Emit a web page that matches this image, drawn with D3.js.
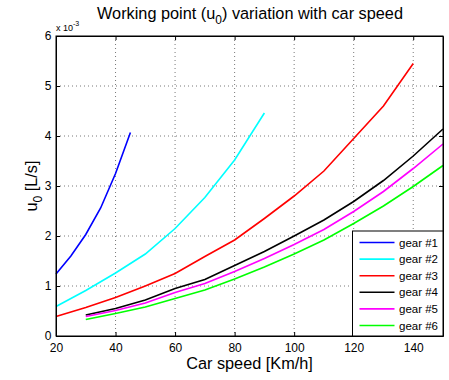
<!DOCTYPE html>
<html>
<head>
<meta charset="utf-8">
<script src="https://cdn.jsdelivr.net/npm/d3@7"></script>
<style>
  body { margin: 0; background: #fff; }
  svg { display: block; font-family: "Liberation Sans", Arial, sans-serif; }
  .grid line { stroke: #555; stroke-width: 0.8; stroke-dasharray: 1,3; }
  .axis path, .axis line { stroke: #000; }
  .axis text { fill: #000; font-size: 12px; }
</style>
</head>
<body>
<div id="chart"></div>
<script>
// values in units of 1e-3 L/s
var gear1Speed = [20, 25, 30, 35, 40, 45];
var gear1 = [1.24, 1.6, 2.03, 2.56, 3.25, 4.07];

var gear2Speed = [20, 30, 40, 50, 60, 70, 80, 90];
var gear2 = [0.59, 0.91, 1.26, 1.64, 2.15, 2.77, 3.52, 4.46];

var gear3Speed = [20, 30, 40, 50, 60, 70, 80, 90, 100, 110, 120, 130, 140];
var gear3 = [0.39, 0.57, 0.77, 1.0, 1.25, 1.59, 1.92, 2.35, 2.8, 3.3, 3.95, 4.6, 5.45];

var gearSpeed = [30, 40, 50, 60, 70, 80, 90, 100, 110, 120, 130, 140, 150];
var gear4 = [0.42, 0.55, 0.72, 0.95, 1.13, 1.41, 1.69, 2.0, 2.32, 2.69, 3.11, 3.6, 4.14];
var gear5 = [0.39, 0.51, 0.66, 0.87, 1.05, 1.29, 1.55, 1.83, 2.13, 2.49, 2.89, 3.35, 3.84];
var gear6 = [0.33, 0.45, 0.58, 0.75, 0.92, 1.14, 1.38, 1.64, 1.92, 2.25, 2.6, 2.99, 3.41];

var gearNames = ['gear #1', 'gear #2', 'gear #3', 'gear #4', 'gear #5', 'gear #6'];
var gearColors = ['#0000ff', '#00ffff', '#ff0000', '#000000', '#ff00ff', '#00ff00'];
var xTicks = [20, 40, 60, 80, 100, 120, 140];
var yTicks = [0, 1, 2, 3, 4, 5, 6];

var series = [
  { x: gear1Speed, y: gear1 },
  { x: gear2Speed, y: gear2 },
  { x: gear3Speed, y: gear3 },
  { x: gearSpeed, y: gear4 },
  { x: gearSpeed, y: gear5 },
  { x: gearSpeed, y: gear6 }
];

var width = 449, height = 380;
var margin = { left: 56, right: 6, top: 36, bottom: 44 };
var plotW = width - margin.left - margin.right;
var plotH = height - margin.top - margin.bottom;

var svg = d3.select('#chart').append('svg')
  .attr('width', width)
  .attr('height', height);

var x = d3.scaleLinear().domain([20, 150]).range([0, plotW]);
var y = d3.scaleLinear().domain([0, 6]).range([plotH, 0]);

var g = svg.append('g').attr('transform', 'translate(' + margin.left + ',' + margin.top + ')');

// dotted grid
g.append('g').attr('class', 'grid')
  .selectAll('line.v').data(xTicks.slice(1)).enter().append('line')
  .attr('x1', function (d) { return x(d); }).attr('x2', function (d) { return x(d); })
  .attr('y1', 0).attr('y2', plotH);
g.append('g').attr('class', 'grid')
  .selectAll('line.h').data(yTicks.slice(1, -1)).enter().append('line')
  .attr('y1', function (d) { return y(d); }).attr('y2', function (d) { return y(d); })
  .attr('x1', 0).attr('x2', plotW);

// curves
var line = d3.line()
  .x(function (d) { return x(d[0]); })
  .y(function (d) { return y(d[1]); });

series.forEach(function (s, i) {
  g.append('path')
    .datum(d3.zip(s.x, s.y))
    .attr('fill', 'none')
    .attr('stroke', gearColors[i])
    .attr('stroke-width', 1.6)
    .attr('d', line);
});

// axes, ticks pointing inward like matlab
var fmt = d3.format('d');
g.append('g').attr('class', 'axis')
  .attr('transform', 'translate(0,' + plotH + ')')
  .call(d3.axisBottom(x).tickValues(xTicks).tickFormat(fmt).tickSizeInner(-4).tickSizeOuter(0).tickPadding(7));
g.append('g').attr('class', 'axis')
  .call(d3.axisLeft(y).tickValues(yTicks).tickFormat(fmt).tickSizeInner(-4).tickSizeOuter(0).tickPadding(4.5));
g.append('g').attr('class', 'axis')
  .call(d3.axisTop(x).tickValues(xTicks).tickSizeInner(-4).tickSizeOuter(0))
  .selectAll('text').remove();
g.append('g').attr('class', 'axis')
  .attr('transform', 'translate(' + plotW + ',0)')
  .call(d3.axisRight(y).tickValues(yTicks).tickSizeInner(-4).tickSizeOuter(0))
  .selectAll('text').remove();
g.append('rect')
  .attr('width', plotW).attr('height', plotH)
  .attr('fill', 'none').attr('stroke', '#000');

// legend
var legX = 352.5 - margin.left, legY = 231 - margin.top;
var leg = g.append('g').attr('transform', 'translate(' + legX + ',' + legY + ')');
leg.append('rect')
  .attr('width', plotW - legX).attr('height', plotH - legY)
  .attr('fill', '#fff').attr('stroke', '#000');
gearNames.forEach(function (name, i) {
  var ly = 11.5 + i * 16.6;
  leg.append('line')
    .attr('x1', 7).attr('x2', 42).attr('y1', ly).attr('y2', ly)
    .attr('stroke', gearColors[i]).attr('stroke-width', 1.6);
  leg.append('text')
    .attr('x', 46.5).attr('y', ly + 4)
    .attr('font-size', 11.5)
    .text(name);
});

// exponent label
var expo = svg.append('text').attr('x', 56).attr('y', 31).attr('font-size', 9);
expo.append('tspan').text('x 10');
expo.append('tspan').attr('dy', -5).attr('font-size', 7).text('-3');

// title
var title = svg.append('text')
  .attr('x', 250).attr('y', 18.5)
  .attr('text-anchor', 'middle')
  .attr('font-size', 16.3);
title.append('tspan').text('Working point (u');
title.append('tspan').attr('dy', 5).attr('font-size', 12).text('0');
title.append('tspan').attr('dy', -5).text(') variation with car speed');

// axis labels
svg.append('text')
  .attr('x', margin.left + plotW / 2).attr('y', 369)
  .attr('text-anchor', 'middle')
  .attr('font-size', 16.3)
  .text('Car speed [Km/h]');

var yl = svg.append('text')
  .attr('transform', 'translate(37,' + (margin.top + plotH / 2) + ') rotate(-90)')
  .attr('text-anchor', 'middle')
  .attr('font-size', 16.3);
yl.append('tspan').text('u');
yl.append('tspan').attr('dy', 5).attr('font-size', 12).text('0');
yl.append('tspan').attr('dy', -5).text(' [L/s]');
</script>
</body>
</html>
